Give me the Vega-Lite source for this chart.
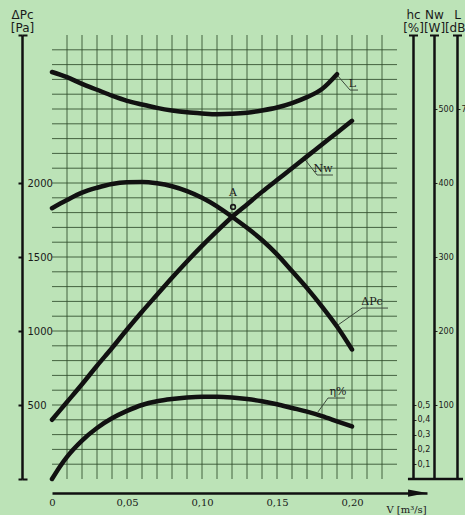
{
  "$schema": "https://vega.github.io/schema/vega-lite/v6.json",
  "width": 375,
  "height": 444,
  "autosize": {"type": "none"},
  "padding": {"left": 52, "top": 35, "right": 38, "bottom": 36},
  "background": "#bce3b7",
  "config": {
    "view": {"stroke": null},
    "axis": {"grid": false, "labelFont": "DejaVu Sans", "titleFont": "DejaVu Sans", "labelColor": "#1a1a1a", "titleColor": "#1a1a1a", "domainColor": "#111111", "tickColor": "#222222", "titleFontWeight": "normal"}
  },
  "datasets": {
    "dp": [
      {"V": 0, "P": 1830}, {"V": 0.01, "P": 1885}, {"V": 0.02, "P": 1935}, {"V": 0.03, "P": 1968}, {"V": 0.04, "P": 1993},
      {"V": 0.05, "P": 2005}, {"V": 0.06, "P": 2007}, {"V": 0.07, "P": 1998}, {"V": 0.08, "P": 1978}, {"V": 0.09, "P": 1945},
      {"V": 0.10, "P": 1900}, {"V": 0.11, "P": 1842}, {"V": 0.12, "P": 1772}, {"V": 0.13, "P": 1697}, {"V": 0.14, "P": 1615},
      {"V": 0.15, "P": 1518}, {"V": 0.16, "P": 1405}, {"V": 0.17, "P": 1290}, {"V": 0.18, "P": 1165}, {"V": 0.19, "P": 1030},
      {"V": 0.20, "P": 875}
    ],
    "nw": [
      {"V": 0, "N": 80}, {"V": 0.01, "N": 104}, {"V": 0.02, "N": 128}, {"V": 0.03, "N": 153}, {"V": 0.04, "N": 177},
      {"V": 0.05, "N": 202}, {"V": 0.06, "N": 226}, {"V": 0.07, "N": 249}, {"V": 0.08, "N": 272}, {"V": 0.09, "N": 294},
      {"V": 0.10, "N": 315}, {"V": 0.11, "N": 335}, {"V": 0.12, "N": 354}, {"V": 0.13, "N": 371}, {"V": 0.14, "N": 388},
      {"V": 0.15, "N": 404}, {"V": 0.16, "N": 420}, {"V": 0.17, "N": 436}, {"V": 0.18, "N": 452}, {"V": 0.19, "N": 468},
      {"V": 0.20, "N": 484}
    ],
    "eta": [
      {"V": 0, "E": 0.0}, {"V": 0.005, "E": 0.08}, {"V": 0.01, "E": 0.15}, {"V": 0.02, "E": 0.26}, {"V": 0.03, "E": 0.345},
      {"V": 0.04, "E": 0.41}, {"V": 0.05, "E": 0.46}, {"V": 0.06, "E": 0.50}, {"V": 0.07, "E": 0.525}, {"V": 0.08, "E": 0.54},
      {"V": 0.09, "E": 0.55}, {"V": 0.10, "E": 0.555}, {"V": 0.11, "E": 0.555}, {"V": 0.12, "E": 0.55}, {"V": 0.13, "E": 0.54},
      {"V": 0.14, "E": 0.525}, {"V": 0.15, "E": 0.505}, {"V": 0.16, "E": 0.48}, {"V": 0.17, "E": 0.455}, {"V": 0.18, "E": 0.425},
      {"V": 0.19, "E": 0.39}, {"V": 0.20, "E": 0.355}
    ],
    "lw": [
      {"V": 0, "L": 75.0}, {"V": 0.01, "L": 74.3}, {"V": 0.02, "L": 73.4}, {"V": 0.03, "L": 72.6}, {"V": 0.04, "L": 71.8},
      {"V": 0.05, "L": 71.1}, {"V": 0.06, "L": 70.6}, {"V": 0.07, "L": 70.15}, {"V": 0.08, "L": 69.8}, {"V": 0.09, "L": 69.55},
      {"V": 0.10, "L": 69.4}, {"V": 0.11, "L": 69.3}, {"V": 0.12, "L": 69.35}, {"V": 0.13, "L": 69.5}, {"V": 0.14, "L": 69.8},
      {"V": 0.15, "L": 70.2}, {"V": 0.16, "L": 70.8}, {"V": 0.17, "L": 71.6}, {"V": 0.18, "L": 72.7}, {"V": 0.19, "L": 74.7}
    ],
    "gv": [
      {"V": 0.01}, {"V": 0.02}, {"V": 0.03}, {"V": 0.04}, {"V": 0.05}, {"V": 0.06}, {"V": 0.07}, {"V": 0.08}, {"V": 0.09}, {"V": 0.10}, {"V": 0.11},
      {"V": 0.12}, {"V": 0.13}, {"V": 0.14}, {"V": 0.15}, {"V": 0.16}, {"V": 0.17}, {"V": 0.18}, {"V": 0.19}, {"V": 0.20}, {"V": 0.21}, {"V": 0.22}
    ],
    "gh": [
      {"P": 100}, {"P": 200}, {"P": 300}, {"P": 400}, {"P": 500}, {"P": 600}, {"P": 700}, {"P": 800}, {"P": 900}, {"P": 1000},
      {"P": 1100}, {"P": 1200}, {"P": 1300}, {"P": 1400}, {"P": 1500}, {"P": 1600}, {"P": 1700}, {"P": 1800}, {"P": 1900}, {"P": 2000},
      {"P": 2100}, {"P": 2200}, {"P": 2300}, {"P": 2400}, {"P": 2500}, {"P": 2600}, {"P": 2700}, {"P": 2800}, {"P": 2900}
    ],
    "leaders": [
      {"id": "L", "o": 1, "V": 0.19, "P": 2730}, {"id": "L", "o": 2, "V": 0.1987, "P": 2628}, {"id": "L", "o": 3, "V": 0.204, "P": 2628},
      {"id": "Nw", "o": 1, "V": 0.1673, "P": 2176}, {"id": "Nw", "o": 2, "V": 0.1767, "P": 2054}, {"id": "Nw", "o": 3, "V": 0.1873, "P": 2054},
      {"id": "dP", "o": 1, "V": 0.1907, "P": 1041}, {"id": "dP", "o": 2, "V": 0.2067, "P": 1155}, {"id": "dP", "o": 3, "V": 0.224, "P": 1155},
      {"id": "eta", "o": 1, "V": 0.1773, "P": 453}, {"id": "eta", "o": 2, "V": 0.184, "P": 547}, {"id": "eta", "o": 3, "V": 0.1953, "P": 547}
    ],
    "labels": [
      {"t": "L", "V": 0.2003, "P": 2650},
      {"t": "Nw", "V": 0.1807, "P": 2074},
      {"t": "ΔPc", "V": 0.2133, "P": 1176},
      {"t": "η%", "V": 0.1907, "P": 565},
      {"t": "A", "V": 0.1207, "P": 1915}
    ],
    "ring": [{"V": 0.1207, "P": 1838}],
    "arrow": [{"V": 0.2437, "P": -95}],
    "base": [{"V": 0.2373, "V2": 0.274, "P": 0}]
  },
  "layer": [
    {
      "layer": [
        {
          "data": {"name": "gv"},
          "mark": {"type": "rule", "color": "#2f4b2c", "strokeWidth": 1, "opacity": 0.85},
          "encoding": {
            "x": {"field": "V", "type": "quantitative", "scale": {"domain": [0, 0.25], "nice": false},
              "axis": {"orient": "bottom", "offset": 14, "values": [0, 0.05, 0.1, 0.15, 0.2], "ticks": false, "domainWidth": 2.5, "domainColor": "#111111",
                "labelExpr": "datum.value == 0 ? '0' : replace(format(datum.value, '.2f'), '.', ',')",
                "labelFont": "DejaVu Serif", "labelFontSize": 10, "labelPadding": 4, "labelBaseline": "top", "labelFlush": false,
                "title": "V [m³/s]", "titleFont": "DejaVu Serif", "titleFontSize": 10, "titleX": 354, "titleY": 19, "titleAlign": "center", "titleBaseline": "alphabetic"}},
            "y": {"datum": 0, "type": "quantitative", "scale": {"domain": [0, 3000], "nice": false},
              "axis": {"orient": "left", "offset": 30, "values": [0, 3000], "tickSize": -5, "tickWidth": 2, "tickColor": "#111111", "domain": false, "labels": false, "title": null}},
            "y2": {"datum": 3000}
          }
        },
        {
          "data": {"name": "gh"},
          "mark": {"type": "rule", "color": "#2f4b2c", "strokeWidth": 1, "opacity": 0.85},
          "encoding": {
            "y": {"field": "P", "type": "quantitative", "scale": {"domain": [0, 3000], "nice": false},
              "axis": {"orient": "right", "offset": -18.5, "values": [3000], "tickSize": 9, "tickWidth": 2, "tickColor": "#111111", "domain": false, "labels": false, "title": null}},
            "x": {"datum": 0, "type": "quantitative", "scale": {"domain": [0, 0.25], "nice": false}},
            "x2": {"datum": 0.23}
          }
        },
        {
          "data": {"name": "dp"},
          "mark": {"type": "line", "color": "#111111", "strokeWidth": 4.5, "strokeCap": "round", "interpolate": "monotone"},
          "encoding": {
            "x": {"field": "V", "type": "quantitative", "scale": {"domain": [0, 0.25], "nice": false}},
            "y": {"field": "P", "type": "quantitative", "scale": {"domain": [0, 3000], "nice": false},
              "axis": {"orient": "left", "offset": 30, "values": [0, 500, 1000, 1500, 2000, 3000], "tickSize": 4, "tickWidth": 2, "tickColor": "#111111",
                "domainWidth": 2.5, "domainColor": "#111111",
                "labelExpr": "datum.value == 0 || datum.value == 3000 ? '' : format(datum.value, 'd')",
                "labelAlign": "left", "labelPadding": -9, "labelFontSize": 10, "labelBaseline": "middle",
                "title": ["ΔPc", "[Pa]"], "titleX": 0, "titleY": -17, "titleAngle": 0, "titleAlign": "center", "titleBaseline": "alphabetic", "titleFontSize": 12, "titleLineHeight": 13}}
          }
        },
        {
          "data": {"name": "leaders"},
          "mark": {"type": "line", "color": "#3d4a3d", "strokeWidth": 1},
          "encoding": {
            "x": {"field": "V", "type": "quantitative", "scale": {"domain": [0, 0.25], "nice": false}},
            "y": {"field": "P", "type": "quantitative", "scale": {"domain": [0, 3000], "nice": false},
              "axis": {"orient": "right", "offset": 2.5, "values": [3000], "tickSize": 9, "tickWidth": 2, "tickColor": "#111111", "domain": false, "labels": false, "title": null}},
            "detail": {"field": "id"},
            "order": {"field": "o"}
          }
        },
        {
          "data": {"name": "labels"},
          "mark": {"type": "text", "font": "DejaVu Serif", "fontSize": 11, "color": "#1a1a1a", "baseline": "alphabetic", "align": "center"},
          "encoding": {
            "x": {"field": "V", "type": "quantitative", "scale": {"domain": [0, 0.25], "nice": false}},
            "y": {"field": "P", "type": "quantitative", "scale": {"domain": [0, 3000], "nice": false},
              "axis": {"orient": "right", "offset": 25.5, "values": [3000], "tickSize": 9, "tickWidth": 2, "tickColor": "#111111", "domain": false, "labels": false, "title": null}},
            "text": {"field": "t"}
          }
        },
        {
          "data": {"name": "ring"},
          "mark": {"type": "point", "shape": "circle", "size": 22, "filled": false, "color": "#1a1a1a", "strokeWidth": 1.6, "opacity": 1},
          "encoding": {
            "x": {"field": "V", "type": "quantitative", "scale": {"domain": [0, 0.25], "nice": false}},
            "y": {"field": "P", "type": "quantitative", "scale": {"domain": [0, 3000], "nice": false}, "axis": null}
          }
        },
        {
          "data": {"name": "arrow"},
          "mark": {"type": "point", "shape": "M-1,-0.38L1,0L-1,0.38Z", "size": 361, "filled": true, "color": "#111111", "opacity": 1},
          "encoding": {
            "x": {"field": "V", "type": "quantitative", "scale": {"domain": [0, 0.25], "nice": false}},
            "y": {"field": "P", "type": "quantitative", "scale": {"domain": [0, 3000], "nice": false}, "axis": null}
          }
        },
        {
          "data": {"name": "base"},
          "mark": {"type": "rule", "color": "#111111", "strokeWidth": 2.5},
          "encoding": {
            "x": {"field": "V", "type": "quantitative", "scale": {"domain": [0, 0.25], "nice": false}},
            "x2": {"field": "V2"},
            "y": {"field": "P", "type": "quantitative", "scale": {"domain": [0, 3000], "nice": false}, "axis": null}
          }
        }
      ],
      "resolve": {"scale": {"y": "shared"}, "axis": {"y": "independent"}}
    },
    {
      "data": {"name": "nw"},
      "mark": {"type": "line", "color": "#111111", "strokeWidth": 4.5, "strokeCap": "round", "interpolate": "monotone"},
      "encoding": {
        "x": {"field": "V", "type": "quantitative", "scale": {"domain": [0, 0.25], "nice": false}},
        "y": {"field": "N", "type": "quantitative", "scale": {"domain": [0, 600], "nice": false},
          "axis": {"orient": "right", "offset": 7, "values": [100, 200, 300, 400, 500], "tickSize": 3, "tickWidth": 1,
            "domainWidth": 2.5, "domainColor": "#111111",
            "labelExpr": "format(datum.value, 'd')",
            "labelPadding": 1, "labelFontSize": 8, "labelBaseline": "middle",
            "title": ["Nw", "[W]"], "titleX": 0, "titleY": -17, "titleAngle": 0, "titleAlign": "center", "titleBaseline": "alphabetic", "titleFontSize": 12, "titleLineHeight": 13}}
      }
    },
    {
      "data": {"name": "eta"},
      "mark": {"type": "line", "color": "#111111", "strokeWidth": 4.5, "strokeCap": "round", "interpolate": "monotone"},
      "encoding": {
        "x": {"field": "V", "type": "quantitative", "scale": {"domain": [0, 0.25], "nice": false}},
        "y": {"field": "E", "type": "quantitative", "scale": {"domain": [0, 3], "nice": false},
          "axis": {"orient": "right", "offset": -14, "values": [0.1, 0.2, 0.3, 0.4, 0.5], "tickSize": 3, "tickWidth": 1,
            "domainWidth": 2.5, "domainColor": "#111111",
            "labelExpr": "replace(format(datum.value, '.1f'), '.', ',')",
            "labelPadding": 1, "labelFontSize": 8, "labelBaseline": "middle",
            "title": ["hc", "[%]"], "titleX": 0, "titleY": -17, "titleAngle": 0, "titleAlign": "center", "titleBaseline": "alphabetic", "titleFontSize": 12, "titleLineHeight": 13}}
      }
    },
    {
      "data": {"name": "lw"},
      "mark": {"type": "line", "color": "#111111", "strokeWidth": 4.5, "strokeCap": "round", "interpolate": "monotone"},
      "encoding": {
        "x": {"field": "V", "type": "quantitative", "scale": {"domain": [0, 0.25], "nice": false}},
        "y": {"field": "L", "type": "quantitative", "scale": {"domain": [20, 80], "nice": false},
          "axis": {"orient": "right", "offset": 30, "values": [70], "tickSize": 3, "tickWidth": 1,
            "domainWidth": 2.5, "domainColor": "#111111",
            "labelPadding": 1, "labelFontSize": 8, "labelBaseline": "middle",
            "title": ["L", "[dB]"], "titleX": 0, "titleY": -17, "titleAngle": 0, "titleAlign": "center", "titleBaseline": "alphabetic", "titleFontSize": 12, "titleLineHeight": 13}}
      }
    }
  ],
  "resolve": {"scale": {"y": "independent"}, "axis": {"y": "independent"}}
}
